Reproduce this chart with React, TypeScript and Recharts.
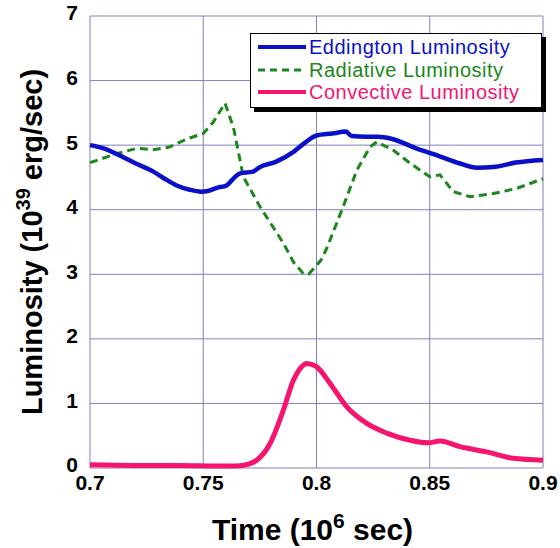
import { LineChart, Line, XAxis, YAxis, CartesianGrid, Legend } from 'recharts';

const xTicks = [0.7, 0.75, 0.8, 0.85, 0.9];
const yTicks = [0, 1, 2, 3, 4, 5, 6, 7];

// Eddington luminosity (10^39 erg/sec) vs time (10^6 sec)
const eddTime = [0.700, 0.706, 0.712, 0.720, 0.728, 0.733, 0.738, 0.744, 0.749, 0.752, 0.757, 0.760, 0.763, 0.766, 0.772, 0.775, 0.782, 0.790, 0.795, 0.800, 0.807, 0.813, 0.8155, 0.822, 0.827, 0.833, 0.844, 0.855, 0.863, 0.871, 0.878, 0.888, 0.900];
const eddLum = [5.00, 4.95, 4.86, 4.72, 4.59, 4.48, 4.38, 4.31, 4.28, 4.29, 4.35, 4.37, 4.47, 4.56, 4.59, 4.66, 4.74, 4.90, 5.04, 5.15, 5.18, 5.21, 5.14, 5.13, 5.13, 5.10, 4.95, 4.82, 4.72, 4.65, 4.66, 4.73, 4.77];

const radTime = [0.700, 0.712, 0.7206, 0.728, 0.735, 0.743, 0.750, 0.7545, 0.7596, 0.7633, 0.7677, 0.775, 0.7854, 0.790, 0.7942, 0.7965, 0.7986, 0.802, 0.8045, 0.8118, 0.8178, 0.8236, 0.8266, 0.834, 0.8413, 0.850, 0.8545, 0.8604, 0.8678, 0.878, 0.8884, 0.900];
const radLum = [4.73, 4.87, 4.95, 4.93, 4.97, 5.10, 5.18, 5.36, 5.65, 5.28, 4.51, 4.05, 3.48, 3.18, 3.01, 3.00, 3.08, 3.22, 3.40, 4.05, 4.61, 4.97, 5.05, 4.92, 4.72, 4.51, 4.54, 4.28, 4.20, 4.25, 4.33, 4.48];

const convTime = [0.700, 0.720, 0.740, 0.757, 0.7647, 0.770, 0.7736, 0.7795, 0.7854, 0.7898, 0.793, 0.7957, 0.800, 0.806, 0.8133, 0.8222, 0.831, 0.8413, 0.8494, 0.8545, 0.8634, 0.8751, 0.8869, 0.900];
const convLum = [0.05, 0.04, 0.04, 0.03, 0.03, 0.06, 0.12, 0.38, 0.90, 1.36, 1.55, 1.62, 1.57, 1.31, 0.95, 0.69, 0.54, 0.43, 0.39, 0.42, 0.33, 0.25, 0.15, 0.12];

const toPoints = (ts: number[], vs: number[]) => ts.map((t, i) => ({ t, v: vs[i] }));

const eddData = toPoints(eddTime, eddLum);
const radData = toPoints(radTime, radLum);
const convData = toPoints(convTime, convLum);

const FONT = '"Liberation Sans", Arial, Helvetica, sans-serif';
const BLUE = '#0a10c8';
const GREEN = '#1c861c';
const PINK = '#f5156f';
const GRID = '#8080bc';

const legendItems = [
  { name: 'Eddington Luminosity', color: BLUE, dash: undefined, width: 4 },
  { name: 'Radiative Luminosity', color: GREEN, dash: '7 5', width: 3 },
  { name: 'Convective Luminosity', color: PINK, dash: undefined, width: 4 },
];

function LegendBox() {
  return (
    <div
      style={{
        border: '1.5px solid #000',
        boxShadow: '4px 4px 0 #000',
        background: '#fff',
        padding: '2px 0 3px 7px',
        fontFamily: FONT,
        fontSize: 20,
        letterSpacing: 0.5,
        textAlign: 'left',
      }}
    >
      {legendItems.map((it) => (
        <div key={it.name} style={{ display: 'flex', alignItems: 'center', height: 22.5 }}>
          <svg width={49} height={10} style={{ marginRight: 2 }}>
            <line x1={0} y1={5} x2={48} y2={5} stroke={it.color} strokeWidth={it.width} strokeDasharray={it.dash} />
          </svg>
          <span style={{ color: it.color, whiteSpace: 'nowrap', lineHeight: '22px' }}>{it.name}</span>
        </div>
      ))}
    </div>
  );
}

function XTitle(props: any) {
  const vb = props.viewBox;
  return (
    <text x={vb.x + vb.width / 2 - 4} y={vb.y + 72} textAnchor="middle" fontFamily={FONT} fontWeight="bold" fontSize={30} fill="#000">
      Time (10
      <tspan fontSize={21} dy={-12}>6</tspan>
      <tspan dy={12}> sec)</tspan>
    </text>
  );
}

function YTitle(props: any) {
  const vb = props.viewBox;
  const cx = 42;
  const cy = vb.y + vb.height / 2;
  return (
    <text x={cx} y={cy} textAnchor="middle" transform={`rotate(-90 ${cx} ${cy})`} fontFamily={FONT} fontWeight="bold" fontSize={29} fill="#000">
      Luminosity
      <tspan dx={8}>(10</tspan>
      <tspan fontSize={20} dy={-12}>39</tspan>
      <tspan dy={12}> erg/sec)</tspan>
    </text>
  );
}

export default function App() {
  return (
    <div style={{ position: 'absolute', left: 0, top: 0, width: 560, height: 548, background: '#fff' }}>
      <LineChart width={560} height={548} margin={{ top: 16, right: 17, bottom: 0, left: 0 }}>
        <CartesianGrid stroke={GRID} strokeWidth={1} />
        <XAxis
          dataKey="t"
          type="number"
          domain={[0.7, 0.9]}
          ticks={xTicks}
          allowDuplicatedCategory={false}
          axisLine={false}
          tickLine={false}
          tickSize={0}
          tickMargin={7}
          height={80}
          tick={{ fill: '#000', fontFamily: FONT, fontWeight: 'bold', fontSize: 21 }}
          label={<XTitle />}
        />
        <YAxis
          type="number"
          domain={[0, 7]}
          ticks={yTicks}
          axisLine={false}
          tickLine={false}
          tickSize={0}
          tickMargin={12}
          width={90}
          tick={{ fill: '#000', fontFamily: FONT, fontWeight: 'bold', fontSize: 21, dy: -3 }}
          label={<YTitle />}
        />
        <Legend
          layout="horizontal"
          verticalAlign="middle"
          align="center"
          content={() => <LegendBox />}
          wrapperStyle={{ left: 250, top: 33, width: 292 }}
        />
        <Line data={radData} dataKey="v" type="linear" stroke={GREEN} strokeWidth={3} strokeDasharray="8 5" dot={false} isAnimationActive={false} name="Radiative Luminosity" />
        <Line data={eddData} dataKey="v" type="monotone" stroke={BLUE} strokeWidth={4.5} dot={false} isAnimationActive={false} name="Eddington Luminosity" />
        <Line data={convData} dataKey="v" type="monotone" stroke={PINK} strokeWidth={5} dot={false} isAnimationActive={false} name="Convective Luminosity" />
      </LineChart>
    </div>
  );
}
